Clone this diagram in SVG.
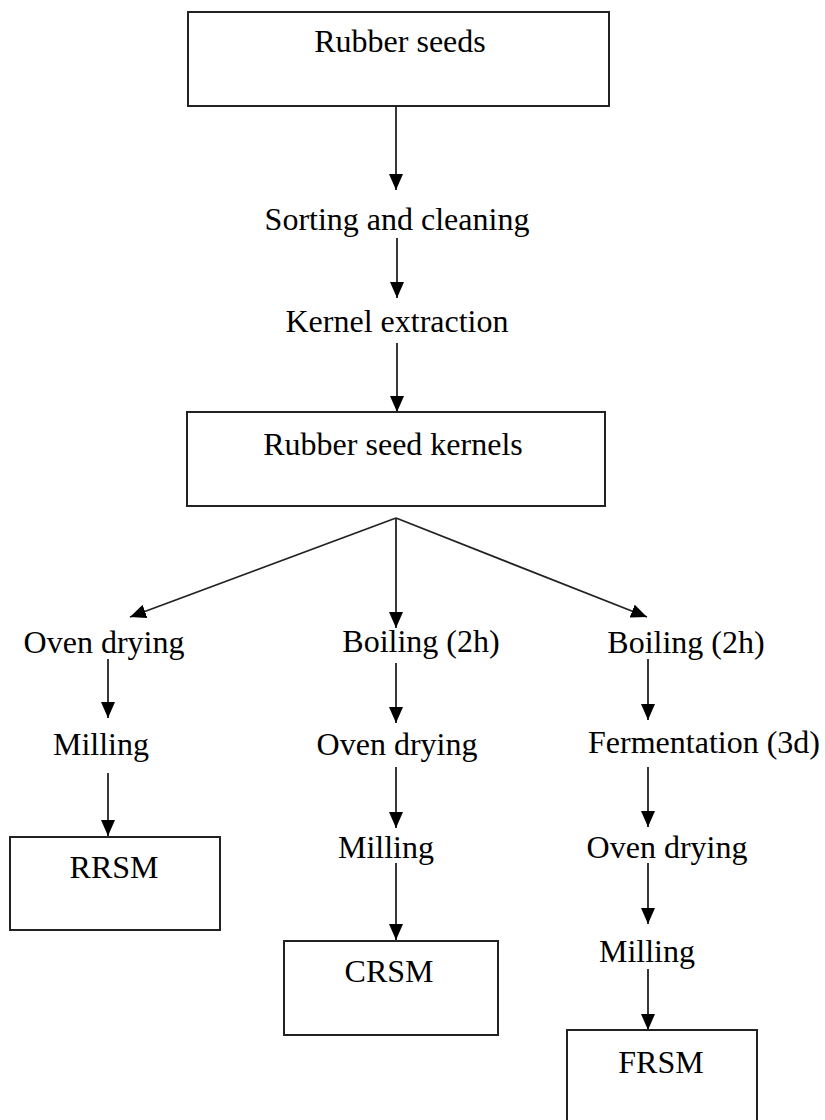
<svg xmlns="http://www.w3.org/2000/svg" width="825" height="1120" viewBox="0 0 825 1120">
<style>
.box{fill:#fff;stroke:#222;stroke-width:2}
.lbl{font-family:"Liberation Serif","Times New Roman",serif;font-size:32px;fill:#000;text-anchor:middle}
.con{stroke:#222;stroke-width:1.8;fill:none;marker-end:url(#arr)}
</style>
<defs>
<marker id="arr" viewBox="0 0 16 14" markerUnits="userSpaceOnUse" markerWidth="16" markerHeight="14" refX="16" refY="7" orient="auto">
<path d="M0,0 L16,7 L0,14 z" fill="#000"/>
</marker>
</defs>
<rect width="825" height="1120" fill="#fff"/>
<g id="connectors">
<line class="con" x1="396" y1="107" x2="396" y2="190"/>
<line class="con" x1="397" y1="238" x2="397" y2="298"/>
<line class="con" x1="397" y1="343" x2="397" y2="412"/>
<line class="con" x1="396" y1="518" x2="130" y2="617"/>
<line class="con" x1="396" y1="518" x2="396" y2="628"/>
<line class="con" x1="396" y1="518" x2="647" y2="617"/>
<line class="con" x1="108" y1="659" x2="108" y2="718"/>
<line class="con" x1="108" y1="773" x2="108" y2="836"/>
<line class="con" x1="396" y1="663" x2="396" y2="723"/>
<line class="con" x1="396" y1="767" x2="396" y2="828"/>
<line class="con" x1="396" y1="863" x2="396" y2="940"/>
<line class="con" x1="648" y1="659" x2="648" y2="720"/>
<line class="con" x1="648" y1="767" x2="648" y2="827"/>
<line class="con" x1="648" y1="863" x2="648" y2="924"/>
<line class="con" x1="648" y1="969" x2="648" y2="1030"/>
</g>
<g id="rubber-seeds"><rect class="box" x="188" y="12" width="421" height="94"/><text class="lbl" x="400" y="52">Rubber seeds</text></g>
<g id="sorting"><text class="lbl" x="397" y="230">Sorting and cleaning</text></g>
<g id="kernel-extraction"><text class="lbl" x="397" y="332">Kernel extraction</text></g>
<g id="kernels"><rect class="box" x="187" y="412" width="418" height="94"/><text class="lbl" x="393" y="455">Rubber seed kernels</text></g>
<g id="oven1"><text class="lbl" x="104" y="653">Oven drying</text></g>
<g id="boil2"><text class="lbl" x="421" y="652">Boiling (2h)</text></g>
<g id="boil3"><text class="lbl" x="686" y="653">Boiling (2h)</text></g>
<g id="mill1"><text class="lbl" x="101" y="755">Milling</text></g>
<g id="oven2"><text class="lbl" x="397" y="755">Oven drying</text></g>
<g id="ferm3"><text class="lbl" x="704" y="753">Fermentation (3d)</text></g>
<g id="rrsm"><rect class="box" x="10" y="837" width="210" height="93"/><text class="lbl" x="114" y="878">RRSM</text></g>
<g id="mill2"><text class="lbl" x="386" y="858">Milling</text></g>
<g id="oven3"><text class="lbl" x="667" y="858">Oven drying</text></g>
<g id="crsm"><rect class="box" x="284" y="941" width="214" height="94"/><text class="lbl" x="389" y="982">CRSM</text></g>
<g id="mill3"><text class="lbl" x="647" y="962">Milling</text></g>
<g id="frsm"><rect class="box" x="567" y="1030" width="190" height="100"/><text class="lbl" x="661" y="1073">FRSM</text></g>
</svg>
